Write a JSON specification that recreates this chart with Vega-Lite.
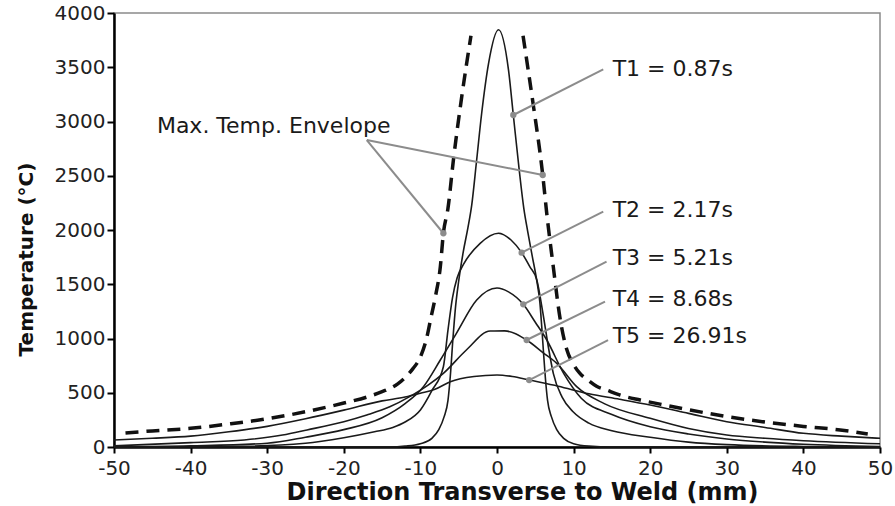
{
  "$schema": "https://vega.github.io/schema/vega-lite/v6.json",
  "width": 766,
  "height": 434,
  "autosize": {"type": "none"},
  "padding": {"left": 114, "top": 13, "right": 15, "bottom": 59},
  "background": "white",
  "config": {"view": {"stroke": "#8a8a8a", "strokeWidth": 1.5}, "font": "DejaVu Sans"},
  "datasets": {
    "curves": [
      {"s": "T1", "x": -50, "t": 0}, {"s": "T1", "x": -14, "t": 0}, {"s": "T1", "x": -12, "t": 8}, {"s": "T1", "x": -10, "t": 30}, {"s": "T1", "x": -8.5, "t": 80}, {"s": "T1", "x": -7.6, "t": 160}, {"s": "T1", "x": -6.9, "t": 280}, {"s": "T1", "x": -6.4, "t": 430}, {"s": "T1", "x": -6.1, "t": 650}, {"s": "T1", "x": -5.75, "t": 1000}, {"s": "T1", "x": -5.4, "t": 1300}, {"s": "T1", "x": -5.0, "t": 1530}, {"s": "T1", "x": -4.4, "t": 1800}, {"s": "T1", "x": -3.8, "t": 2020}, {"s": "T1", "x": -3.3, "t": 2230}, {"s": "T1", "x": -2.7, "t": 2615}, {"s": "T1", "x": -2.0, "t": 3076}, {"s": "T1", "x": -1.1, "t": 3536}, {"s": "T1", "x": 0.2, "t": 3845}, {"s": "T1", "x": 1.5, "t": 3475}, {"s": "T1", "x": 2.13, "t": 3060}, {"s": "T1", "x": 2.9, "t": 2553}, {"s": "T1", "x": 3.5, "t": 2200}, {"s": "T1", "x": 4.0, "t": 1990}, {"s": "T1", "x": 4.6, "t": 1760}, {"s": "T1", "x": 5.2, "t": 1530}, {"s": "T1", "x": 5.6, "t": 1330}, {"s": "T1", "x": 5.85, "t": 1100}, {"s": "T1", "x": 6.05, "t": 894}, {"s": "T1", "x": 6.3, "t": 650}, {"s": "T1", "x": 6.6, "t": 430}, {"s": "T1", "x": 7.1, "t": 280}, {"s": "T1", "x": 7.8, "t": 160}, {"s": "T1", "x": 8.7, "t": 80}, {"s": "T1", "x": 10, "t": 30}, {"s": "T1", "x": 12, "t": 8}, {"s": "T1", "x": 15, "t": 0}, {"s": "T1", "x": 50, "t": 0},
      {"s": "T2", "x": -50, "t": 0}, {"s": "T2", "x": -35, "t": 5}, {"s": "T2", "x": -25, "t": 35}, {"s": "T2", "x": -20, "t": 85}, {"s": "T2", "x": -16, "t": 140}, {"s": "T2", "x": -13.6, "t": 180}, {"s": "T2", "x": -12, "t": 230}, {"s": "T2", "x": -10, "t": 341}, {"s": "T2", "x": -8.5, "t": 520}, {"s": "T2", "x": -7.0, "t": 740}, {"s": "T2", "x": -6.4, "t": 1078}, {"s": "T2", "x": -5.8, "t": 1380}, {"s": "T2", "x": -5.2, "t": 1560}, {"s": "T2", "x": -4.4, "t": 1680}, {"s": "T2", "x": -2.2, "t": 1877}, {"s": "T2", "x": 0.2, "t": 1970}, {"s": "T2", "x": 1.8, "t": 1910}, {"s": "T2", "x": 3.22, "t": 1791}, {"s": "T2", "x": 4.3, "t": 1660}, {"s": "T2", "x": 5.2, "t": 1539}, {"s": "T2", "x": 6.0, "t": 1232}, {"s": "T2", "x": 6.7, "t": 924}, {"s": "T2", "x": 7.35, "t": 679}, {"s": "T2", "x": 8.5, "t": 460}, {"s": "T2", "x": 10, "t": 320}, {"s": "T2", "x": 12, "t": 220}, {"s": "T2", "x": 15, "t": 150}, {"s": "T2", "x": 20, "t": 90}, {"s": "T2", "x": 25, "t": 45}, {"s": "T2", "x": 30, "t": 22}, {"s": "T2", "x": 40, "t": 5}, {"s": "T2", "x": 50, "t": 0},
      {"s": "T3", "x": -50, "t": 0}, {"s": "T3", "x": -40, "t": 10}, {"s": "T3", "x": -30, "t": 35}, {"s": "T3", "x": -25, "t": 90}, {"s": "T3", "x": -20, "t": 160}, {"s": "T3", "x": -15, "t": 270}, {"s": "T3", "x": -12, "t": 400}, {"s": "T3", "x": -9.6, "t": 556}, {"s": "T3", "x": -7.4, "t": 802}, {"s": "T3", "x": -5.3, "t": 1048}, {"s": "T3", "x": -2.65, "t": 1355}, {"s": "T3", "x": 0, "t": 1465}, {"s": "T3", "x": 1.5, "t": 1430}, {"s": "T3", "x": 3.43, "t": 1315}, {"s": "T3", "x": 5, "t": 1150}, {"s": "T3", "x": 6.5, "t": 986}, {"s": "T3", "x": 8.7, "t": 679}, {"s": "T3", "x": 11, "t": 450}, {"s": "T3", "x": 15, "t": 300}, {"s": "T3", "x": 20, "t": 187}, {"s": "T3", "x": 25, "t": 120}, {"s": "T3", "x": 30, "t": 74}, {"s": "T3", "x": 35, "t": 45}, {"s": "T3", "x": 40, "t": 25}, {"s": "T3", "x": 50, "t": 5},
      {"s": "T4", "x": -50, "t": 10}, {"s": "T4", "x": -40, "t": 40}, {"s": "T4", "x": -33, "t": 65}, {"s": "T4", "x": -28, "t": 110}, {"s": "T4", "x": -24.8, "t": 157}, {"s": "T4", "x": -20, "t": 233}, {"s": "T4", "x": -17, "t": 295}, {"s": "T4", "x": -14, "t": 370}, {"s": "T4", "x": -11.4, "t": 464}, {"s": "T4", "x": -9, "t": 570}, {"s": "T4", "x": -7, "t": 679}, {"s": "T4", "x": -4, "t": 894}, {"s": "T4", "x": -0.9, "t": 1069}, {"s": "T4", "x": 1, "t": 1070}, {"s": "T4", "x": 3.87, "t": 986}, {"s": "T4", "x": 6, "t": 870}, {"s": "T4", "x": 7.8, "t": 771}, {"s": "T4", "x": 10.4, "t": 556}, {"s": "T4", "x": 14, "t": 400}, {"s": "T4", "x": 20, "t": 264}, {"s": "T4", "x": 25, "t": 170}, {"s": "T4", "x": 30, "t": 110}, {"s": "T4", "x": 35, "t": 80}, {"s": "T4", "x": 40, "t": 58}, {"s": "T4", "x": 50, "t": 30},
      {"s": "T5", "x": -50, "t": 65}, {"s": "T5", "x": -45, "t": 80}, {"s": "T5", "x": -40, "t": 100}, {"s": "T5", "x": -35, "t": 140}, {"s": "T5", "x": -30, "t": 190}, {"s": "T5", "x": -25, "t": 260}, {"s": "T5", "x": -20, "t": 340}, {"s": "T5", "x": -15, "t": 425}, {"s": "T5", "x": -12, "t": 460}, {"s": "T5", "x": -10, "t": 495}, {"s": "T5", "x": -8.1, "t": 532}, {"s": "T5", "x": -6.1, "t": 602}, {"s": "T5", "x": -3, "t": 650}, {"s": "T5", "x": 0, "t": 664}, {"s": "T5", "x": 2, "t": 650}, {"s": "T5", "x": 4.2, "t": 617}, {"s": "T5", "x": 8, "t": 560}, {"s": "T5", "x": 12, "t": 490}, {"s": "T5", "x": 16, "t": 440}, {"s": "T5", "x": 20, "t": 387}, {"s": "T5", "x": 25, "t": 310}, {"s": "T5", "x": 30, "t": 233}, {"s": "T5", "x": 35, "t": 180}, {"s": "T5", "x": 40, "t": 126}, {"s": "T5", "x": 45, "t": 100}, {"s": "T5", "x": 50, "t": 80}
    ],
    "env": [
      {"s": "L", "x": -48.5, "t": 130}, {"s": "L", "x": -45, "t": 148}, {"s": "L", "x": -40, "t": 172}, {"s": "L", "x": -35, "t": 212}, {"s": "L", "x": -30, "t": 260}, {"s": "L", "x": -25, "t": 325}, {"s": "L", "x": -20, "t": 405}, {"s": "L", "x": -17, "t": 460}, {"s": "L", "x": -15, "t": 510}, {"s": "L", "x": -13, "t": 580}, {"s": "L", "x": -12, "t": 640}, {"s": "L", "x": -11, "t": 720}, {"s": "L", "x": -10, "t": 830}, {"s": "L", "x": -9.2, "t": 1000}, {"s": "L", "x": -8.6, "t": 1200}, {"s": "L", "x": -8.0, "t": 1400}, {"s": "L", "x": -7.4, "t": 1660}, {"s": "L", "x": -7.0, "t": 1970}, {"s": "L", "x": -6.4, "t": 2200}, {"s": "L", "x": -5.7, "t": 2640}, {"s": "L", "x": -4.6, "t": 3230}, {"s": "L", "x": -3.4, "t": 3790},
      {"s": "R", "x": 3.4, "t": 3790}, {"s": "R", "x": 4.7, "t": 3170}, {"s": "R", "x": 5.97, "t": 2507}, {"s": "R", "x": 6.5, "t": 2150}, {"s": "R", "x": 7.35, "t": 1660}, {"s": "R", "x": 8.2, "t": 1200}, {"s": "R", "x": 9.1, "t": 900}, {"s": "R", "x": 10, "t": 760}, {"s": "R", "x": 10.8, "t": 680}, {"s": "R", "x": 12, "t": 610}, {"s": "R", "x": 13, "t": 560}, {"s": "R", "x": 14.3, "t": 525}, {"s": "R", "x": 16, "t": 480}, {"s": "R", "x": 18.7, "t": 433}, {"s": "R", "x": 22, "t": 385}, {"s": "R", "x": 25.2, "t": 341}, {"s": "R", "x": 30, "t": 280}, {"s": "R", "x": 35, "t": 230}, {"s": "R", "x": 40, "t": 190}, {"s": "R", "x": 44.8, "t": 157}, {"s": "R", "x": 48.4, "t": 120}
    ],
    "leaders": [
      {"x": 13.87, "t": 3481, "x2": 2.13, "t2": 3060},
      {"x": -17.0, "t": 2829, "x2": 5.97, "t2": 2507},
      {"x": -17.0, "t": 2829, "x2": -7.0, "t2": 1970},
      {"x": 13.87, "t": 2169, "x2": 3.22, "t2": 1791},
      {"x": 14.3, "t": 1708, "x2": 3.43, "t2": 1315},
      {"x": 14.1, "t": 1339, "x2": 3.87, "t2": 986},
      {"x": 14.5, "t": 986, "x2": 4.2, "t2": 617}
    ],
    "labels": [
      {"label": "Max. Temp. Envelope", "x": -44.4, "t": 2959},
      {"label": "T1 = 0.87s", "x": 15.1, "t": 3484},
      {"label": "T2 = 2.17s", "x": 15.1, "t": 2184},
      {"label": "T3 = 5.21s", "x": 15.1, "t": 1742},
      {"label": "T4 = 8.68s", "x": 15.1, "t": 1364},
      {"label": "T5 = 26.91s", "x": 15.1, "t": 1023}
    ]
  },
  "layer": [
    {
      "data": {"name": "curves"},
      "mark": {"type": "line", "color": "#1a1a1a", "strokeWidth": 1.6, "interpolate": "monotone"},
      "encoding": {
        "detail": {"field": "s", "type": "nominal"},
        "x": {
          "field": "x", "type": "quantitative",
          "scale": {"domain": [-50, 50], "nice": false},
          "axis": {
            "values": [-50, -40, -30, -20, -10, 0, 10, 20, 30, 40, 50],
            "labelExpr": "'' + datum.value",
            "title": "Direction Transverse to Weld (mm)",
            "titleFontSize": 24, "titleFontWeight": "bold", "titleColor": "#111",
            "titleX": 408, "titleY": 45, "titleBaseline": "middle", "titleAlign": "center", "titleAnchor": "middle",
            "labelFontSize": 20, "labelColor": "#222", "labelPadding": 5, "labelFlush": false,
            "tickSize": 6, "tickWidth": 2, "tickColor": "#000",
            "domainColor": "#000", "domainWidth": 2.5, "grid": false
          }
        },
        "y": {
          "field": "t", "type": "quantitative",
          "scale": {"domain": [0, 4000], "nice": false},
          "axis": {
            "values": [0, 500, 1000, 1500, 2000, 2500, 3000, 3500, 4000],
            "labelExpr": "'' + datum.value",
            "title": "Temperature (°C)",
            "titleFontSize": 20, "titleFontWeight": "bold", "titleColor": "#111",
            "titleX": -88, "titleY": 246, "titleAngle": -90, "titleBaseline": "middle", "titleAlign": "center", "titleAnchor": "middle",
            "labelFontSize": 20, "labelColor": "#222", "labelPadding": 2, "labelFlush": false,
            "tickSize": 7, "tickWidth": 2, "tickColor": "#000",
            "domainColor": "#000", "domainWidth": 2.5, "grid": false
          }
        }
      }
    },
    {
      "data": {"name": "env"},
      "mark": {"type": "line", "color": "#111", "strokeWidth": 3.5, "strokeDash": [13, 8], "interpolate": "monotone"},
      "encoding": {
        "detail": {"field": "s", "type": "nominal"},
        "x": {"field": "x", "type": "quantitative"},
        "y": {"field": "t", "type": "quantitative"}
      }
    },
    {
      "data": {"name": "leaders"},
      "mark": {"type": "rule", "color": "#8c8c8c", "strokeWidth": 2},
      "encoding": {
        "x": {"field": "x", "type": "quantitative"},
        "y": {"field": "t", "type": "quantitative"},
        "x2": {"field": "x2"},
        "y2": {"field": "t2"}
      }
    },
    {
      "data": {"name": "leaders"},
      "mark": {"type": "point", "filled": true, "color": "#8c8c8c", "size": 40, "opacity": 1},
      "encoding": {
        "x": {"field": "x2", "type": "quantitative"},
        "y": {"field": "t2", "type": "quantitative"}
      }
    },
    {
      "data": {"name": "labels"},
      "mark": {"type": "text", "align": "left", "baseline": "middle", "fontSize": 22, "color": "#1a1a1a"},
      "encoding": {
        "x": {"field": "x", "type": "quantitative"},
        "y": {"field": "t", "type": "quantitative"},
        "text": {"field": "label"}
      }
    }
  ]
}
